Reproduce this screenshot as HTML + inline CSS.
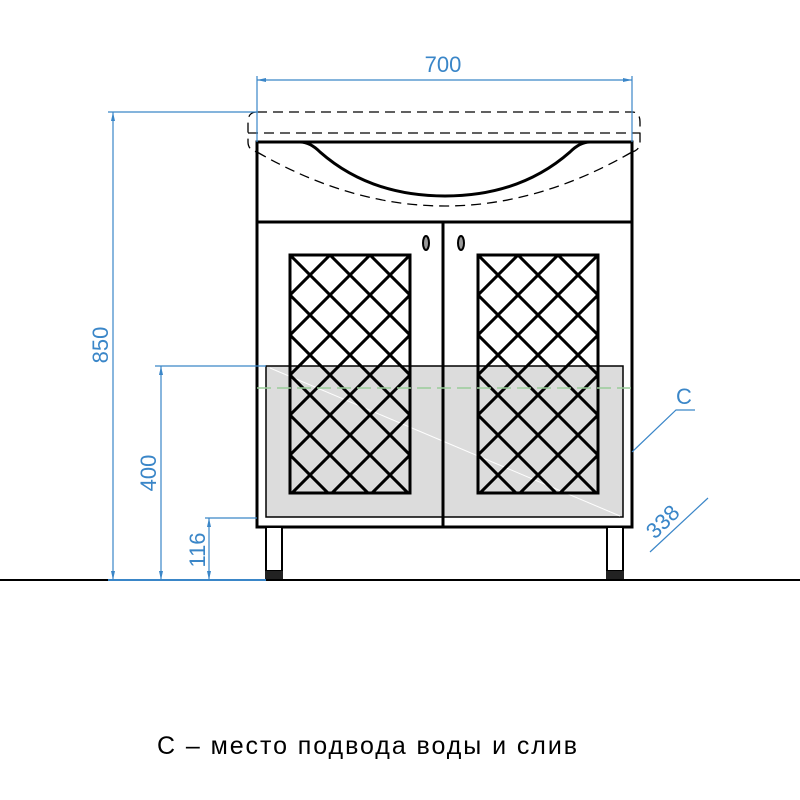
<!DOCTYPE html>
<html><head><style>body{margin:0;background:#fff}svg{display:block}</style></head><body>
<svg width="800" height="800" viewBox="0 0 800 800" xmlns="http://www.w3.org/2000/svg">
<defs>
<pattern id="lat" x="290" y="255" width="40" height="40" patternUnits="userSpaceOnUse">
<path d="M0,0 L40,40 M40,0 L0,40 M-20,20 L0,40 M20,-20 L60,20" stroke="#000" stroke-width="3" fill="none"/>
</pattern>
<pattern id="lat2" x="478" y="255" width="40" height="40" patternUnits="userSpaceOnUse">
<path d="M0,0 L40,40 M40,0 L0,40" stroke="#000" stroke-width="3" fill="none"/>
</pattern>
</defs>
<!-- floor -->
<line x1="0" y1="580" x2="800" y2="580" stroke="#000" stroke-width="2"/>
<!-- gray -->
<rect x="266" y="366" width="357" height="151" fill="#dcdcdc" stroke="#000" stroke-width="1.5"/>
<line x1="270" y1="368" x2="620" y2="516" stroke="#fff" stroke-width="1"/>
<!-- cabinet -->
<rect x="257" y="142" width="375" height="385" fill="none" stroke="#000" stroke-width="3"/>
<line x1="257" y1="222" x2="632" y2="222" stroke="#000" stroke-width="3"/>
<line x1="443" y1="222" x2="443" y2="527" stroke="#000" stroke-width="3"/>
<!-- panels -->
<rect x="290" y="255" width="120" height="238" fill="url(#lat)" stroke="#000" stroke-width="3"/>
<rect x="478" y="255" width="120" height="238" fill="url(#lat2)" stroke="#000" stroke-width="3"/>
<!-- handles -->
<ellipse cx="426" cy="243" rx="3" ry="7" fill="#999" stroke="#000" stroke-width="2"/>
<ellipse cx="461" cy="243" rx="3" ry="7" fill="#999" stroke="#000" stroke-width="2"/>
<!-- green dashed -->
<line x1="257" y1="388" x2="632" y2="388" stroke="#9c9" stroke-width="1.5" stroke-dasharray="14,6"/>
<!-- legs -->
<rect x="266" y="527" width="16" height="44" fill="#fff" stroke="#000" stroke-width="2"/>
<rect x="607" y="527" width="16" height="44" fill="#fff" stroke="#000" stroke-width="2"/>
<rect x="265" y="571" width="18" height="8" fill="#222"/>
<rect x="606" y="571" width="18" height="8" fill="#222"/>
<!-- sink -->
<path d="M257,142 L300,142 Q310,142 320,152 Q370,196 445,196 Q520,196 570,152 Q580,142 590,142 L632,142" fill="none" stroke="#000" stroke-width="3"/>
<path d="M257,152 Q445,260 632,152" fill="none" stroke="#000" stroke-width="1.3" stroke-dasharray="10,6"/>
<path d="M257,112 L632,112 Q640,112 640,122 L640,142 Q640,150 632,152 M257,112 Q248,112 248,122 L248,142 Q248,150 257,152" fill="none" stroke="#000" stroke-width="1.3" stroke-dasharray="10,6"/>
<line x1="248" y1="133" x2="640" y2="133" stroke="#000" stroke-width="1.3" stroke-dasharray="10,6"/>
<!-- dims -->
<g stroke="#3a86c8" stroke-width="1.2" fill="none">
<line x1="257" y1="76" x2="257" y2="142"/><line x1="632" y1="76" x2="632" y2="142"/>
<line x1="257" y1="80" x2="632" y2="80"/>
<line x1="108" y1="112" x2="258" y2="112"/><line x1="113" y1="112" x2="113" y2="580"/>
<line x1="155" y1="366" x2="266" y2="366"/><line x1="161" y1="366" x2="161" y2="580"/>
<line x1="205" y1="518" x2="257" y2="518"/><line x1="209" y1="518" x2="209" y2="580"/>
<line x1="108" y1="580" x2="266" y2="580" stroke-width="2"/>
<polyline points="632,452 676,410 695,410"/>
<line x1="650" y1="552" x2="708" y2="498"/>
</g>
<g fill="#3a86c8">
<path d="M257,80 l9,-2 v4z M632,80 l-9,-2 v4z"/>
<path d="M113,112 l-2,9 h4z M113,580 l-2,-9 h4z M161,366 l-2,9 h4z M161,580 l-2,-9 h4z M209,518 l-2,9 h4z M209,580 l-2,-9 h4z"/>
</g>
<g fill="#3a86c8" font-family="Liberation Sans, sans-serif" font-size="22">
<text x="443" y="72" text-anchor="middle">700</text>
<text transform="translate(108,345) rotate(-90)" text-anchor="middle">850</text>
<text transform="translate(156,473) rotate(-90)" text-anchor="middle">400</text>
<text transform="translate(205,550) rotate(-90)" text-anchor="middle">116</text>
<text x="676" y="404">C</text>
<text transform="translate(668,527) rotate(-45)" text-anchor="middle">338</text>
</g>
<text x="157" y="754" font-family="Liberation Sans, DejaVu Sans, sans-serif" font-size="25" fill="#000" textLength="420">C – место подвода воды и слив</text>
</svg>
</body></html>
